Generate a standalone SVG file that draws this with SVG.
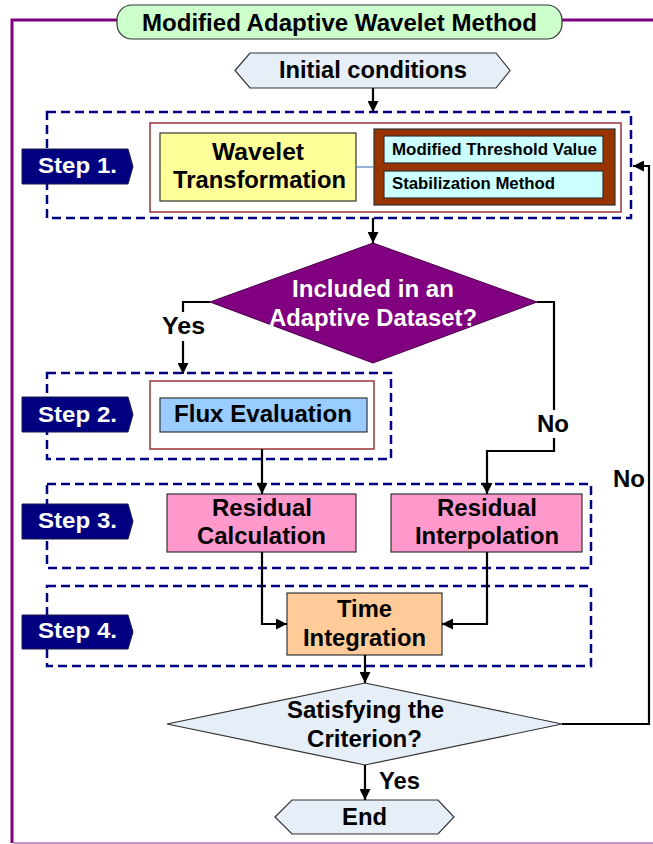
<svg xmlns="http://www.w3.org/2000/svg" width="653" height="844" viewBox="0 0 653 844">
<defs>
<style>
text{font-family:"Liberation Sans",Arial,sans-serif;font-weight:bold;fill:#000}
.t23{font-size:23px}
.t15{font-size:16px}
.w{fill:#fff}
.step{fill:#000080;stroke:#1a1a4a;stroke-width:1}
.dash{fill:none;stroke:#000080;stroke-width:2.5;stroke-dasharray:9 5}
.red{fill:#fff;stroke:#993333;stroke-width:1.5}
.box{stroke:#333;stroke-width:1.2}
.con{fill:none;stroke:#000;stroke-width:2.2}
</style>
<marker id="ah" viewBox="0 0 10 10" refX="10" refY="5" markerWidth="5" markerHeight="5" orient="auto" markerUnits="strokeWidth">
<path d="M0,0 L10,5 L0,10 z" fill="#000"/>
</marker>
</defs>
<rect width="653" height="844" fill="#fff"/>
<g id="frame">
<path d="M117,20 H12 V843" fill="none" stroke="#800080" stroke-width="3"/>
<path d="M562,20 H653" fill="none" stroke="#800080" stroke-width="3"/>
<path d="M13,843 H653" fill="none" stroke="#C896C8" stroke-width="2"/>
</g>
<g id="title">
<rect x="117" y="5" width="445" height="34" rx="15" fill="#CCFFCC" stroke="#333" stroke-width="1.2"/>
<text class="t23" x="142" y="31" textLength="395" lengthAdjust="spacingAndGlyphs">Modified Adaptive Wavelet Method</text>
</g>
<g id="step1">
<rect class="dash" x="47" y="112" width="584" height="106"/>
<path class="step" d="M22,149 H128 L133,166.5 L128,184 H22 z"/>
<text class="w" x="38" y="173" font-size="22" textLength="79" lengthAdjust="spacingAndGlyphs">Step 1.</text>
<rect class="red" x="150" y="123" width="471" height="89"/>
</g>
<g id="step2">
<rect class="dash" x="47" y="373" width="344" height="86"/>
<path class="step" d="M22,397 H128 L133,414.5 L128,432 H22 z"/>
<text class="w" x="38" y="422" font-size="22" textLength="79" lengthAdjust="spacingAndGlyphs">Step 2.</text>
<rect class="red" x="150" y="381" width="224" height="68"/>
</g>
<g id="step3">
<rect class="dash" x="47" y="484" width="544" height="84"/>
<path class="step" d="M22,504 H128 L133,521.5 L128,539 H22 z"/>
<text class="w" x="38" y="528" font-size="22" textLength="79" lengthAdjust="spacingAndGlyphs">Step 3.</text>
</g>
<g id="step4">
<rect class="dash" x="47" y="586" width="544" height="80"/>
<path class="step" d="M22,615 H128 L133,632 L128,649 H22 z"/>
<text class="w" x="38" y="638" font-size="22" textLength="79" lengthAdjust="spacingAndGlyphs">Step 4.</text>
</g>
<g id="initial">
<polygon class="box" points="235,70.5 250,53 496,53 510,70.5 496,88 250,88" fill="#E6EEF8"/>
<text class="t23" x="279" y="78" textLength="188" lengthAdjust="spacingAndGlyphs">Initial conditions</text>
</g>
<g id="wavelet">
<rect class="box" x="160" y="133" width="196" height="68" fill="#FFFF99"/>
<text class="t23" x="212" y="160" textLength="92" lengthAdjust="spacingAndGlyphs">Wavelet</text>
<text class="t23" x="173" y="188" textLength="173" lengthAdjust="spacingAndGlyphs">Transformation</text>
</g>
<g id="options">
<rect x="374" y="129" width="241" height="76" fill="#993300" stroke="#333" stroke-width="1.2"/>
<rect class="box" x="384" y="136" width="219" height="27" fill="#CCFFFF"/>
<text class="t15" x="392" y="155" textLength="205" lengthAdjust="spacingAndGlyphs">Modified Threshold Value</text>
<rect class="box" x="384" y="171" width="219" height="27" fill="#CCFFFF"/>
<text class="t15" x="392" y="189" textLength="163" lengthAdjust="spacingAndGlyphs">Stabilization Method</text>
</g>
<g id="decision1">
<polygon points="373,243 537,302 373,363 210,302" fill="#800080" stroke="#4a004a" stroke-width="1"/>
<text class="t23 w" x="292" y="297" textLength="162" lengthAdjust="spacingAndGlyphs">Included in an</text>
<text class="t23 w" x="269" y="326" textLength="208" lengthAdjust="spacingAndGlyphs">Adaptive Dataset?</text>
</g>
<g id="flux">
<rect class="box" x="160" y="398" width="207" height="34" fill="#99CCFF"/>
<text class="t23" x="174" y="422" textLength="178" lengthAdjust="spacingAndGlyphs">Flux Evaluation</text>
</g>
<g id="rescalc">
<rect class="box" x="167" y="494" width="189" height="58" fill="#FF99CC"/>
<text class="t23" x="212" y="516" textLength="100" lengthAdjust="spacingAndGlyphs">Residual</text>
<text class="t23" x="197" y="544" textLength="129" lengthAdjust="spacingAndGlyphs">Calculation</text>
</g>
<g id="resinterp">
<rect class="box" x="391" y="494" width="191" height="58" fill="#FF99CC"/>
<text class="t23" x="437" y="516" textLength="100" lengthAdjust="spacingAndGlyphs">Residual</text>
<text class="t23" x="415" y="544" textLength="144" lengthAdjust="spacingAndGlyphs">Interpolation</text>
</g>
<g id="time">
<rect class="box" x="287" y="593" width="155" height="62" fill="#FFCC99"/>
<text class="t23" x="337" y="617" textLength="55" lengthAdjust="spacingAndGlyphs">Time</text>
<text class="t23" x="303" y="646" textLength="123" lengthAdjust="spacingAndGlyphs">Integration</text>
</g>
<g id="decision2">
<polygon class="box" points="365,683 562,724 365,765 167,724" fill="#E6EEF8"/>
<text class="t23" x="287" y="718" textLength="157" lengthAdjust="spacingAndGlyphs">Satisfying the</text>
<text class="t23" x="307" y="747" textLength="115" lengthAdjust="spacingAndGlyphs">Criterion?</text>
</g>
<g id="end">
<polygon class="box" points="275,817 292,800 438,800 454,817 438,834 292,834" fill="#E6EEF8"/>
<text class="t23" x="342" y="825" textLength="45" lengthAdjust="spacingAndGlyphs">End</text>
</g>
<g id="connectors">
<path d="M356,167 H374" fill="none" stroke="#4F81BD" stroke-width="1.2"/>
<path class="con" d="M373,88 V112" marker-end="url(#ah)"/>
<path class="con" d="M373,218 V243" marker-end="url(#ah)"/>
<path class="con" d="M210,302 H183 V312"/>
<path class="con" d="M183,341 V374" marker-end="url(#ah)"/>
<path class="con" d="M537,302 H554 V410"/>
<path class="con" d="M554,438 V451 H487 V494" marker-end="url(#ah)"/>
<path class="con" d="M262,449 V494" marker-end="url(#ah)"/>
<path class="con" d="M262,552 V624 H287" marker-end="url(#ah)"/>
<path class="con" d="M487,552 V624 H442" marker-end="url(#ah)"/>
<path class="con" d="M365,655 V683" marker-end="url(#ah)"/>
<path class="con" d="M562,724 H649 V166 H633" marker-end="url(#ah)"/>
<path class="con" d="M365,765 V800" marker-end="url(#ah)"/>
<text class="t23" x="162" y="334" textLength="43" lengthAdjust="spacingAndGlyphs">Yes</text>
<text class="t23" x="537" y="432" textLength="32" lengthAdjust="spacingAndGlyphs">No</text>
<text class="t23" x="613" y="487" textLength="32" lengthAdjust="spacingAndGlyphs">No</text>
<text class="t23" x="379" y="789" textLength="41" lengthAdjust="spacingAndGlyphs">Yes</text>
</g>
</svg>
